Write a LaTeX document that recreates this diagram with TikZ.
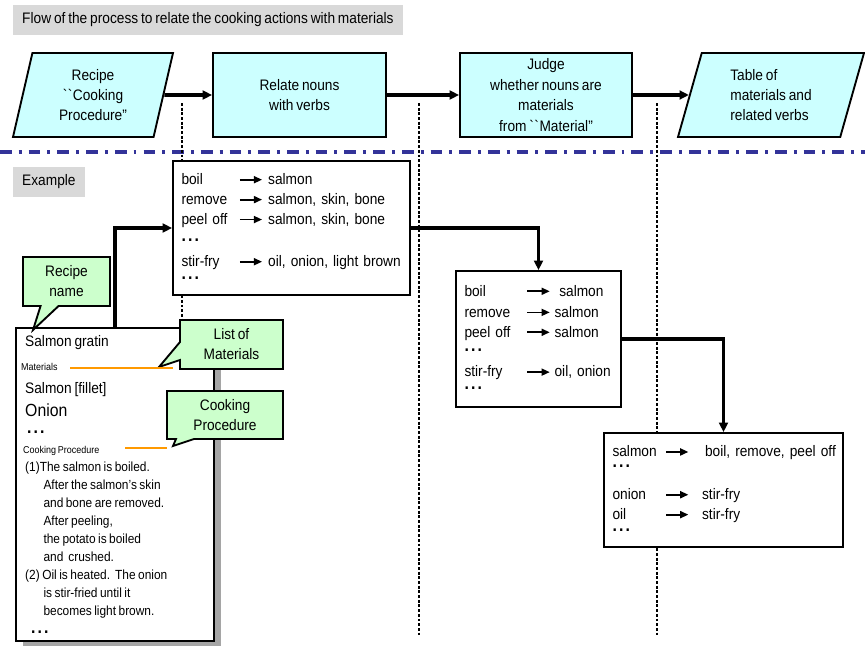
\documentclass[tikz,border=0pt]{standalone}
\usepackage{fontspec}
\setmainfont{Liberation Sans}[FakeStretch=0.9, WordSpace=0.75]
\usepackage{tikz}
\usetikzlibrary{arrows.meta}
\usetikzlibrary{backgrounds}
\usetikzlibrary{shadows}
\usetikzlibrary{shapes.geometric}
\usetikzlibrary{shapes.callouts}
\definecolor{flowcyan}{RGB}{204, 255, 255}
\definecolor{notegreen}{RGB}{204, 255, 204}
\definecolor{bannergray}{RGB}{217, 217, 217}
\definecolor{rulenavy}{RGB}{51, 51, 153}
\definecolor{markorange}{RGB}{255, 153, 0}
\definecolor{shadowgray}{RGB}{165, 165, 165}
\newcommand{\pxu}{0.03cm}
\newcommand{\pairarrow}{\tikz[baseline=-0.6ex]\draw[line width=1.5pt, -{Triangle[length=7pt, width=6pt]}] (0pt,0pt) -- (19pt,0pt);}
\newcommand{\moredots}{{\fontsize{15}{17}\selectfont\textbf{.\kern1.8pt.\kern1.8pt.}}}
\tikzset{
  basefont/.style={font=\fontsize{13}{17}\selectfont},
  banner/.style={basefont, fill=bannergray, anchor=west, inner xsep=9*\pxu, minimum height=30*\pxu},
  flowbox/.style={basefont, draw, line width=1.6pt, fill=flowcyan, align=center, minimum height=84*\pxu, inner sep=1pt},
  iobox/.style={flowbox, trapezium, trapezium stretches body},
  flowline/.style={line width=3pt, -{Triangle[length=8pt, width=7.5pt]}},
  pairbox/.style={basefont, draw, line width=1.6pt, fill=white, align=left, inner xsep=8.5*\pxu},
  recipecard/.style={draw, line width=1.6pt, fill=white, drop shadow={shadow xshift=6pt, shadow yshift=-6pt, fill=shadowgray, opacity=1}},
  cardtext/.style={basefont, anchor=mid west, inner sep=0pt},
  tinytext/.style={font=\fontsize{8.5}{10}\selectfont, anchor=mid west, inner sep=0pt},
  proctext/.style={font=\fontsize{11.3}{15.3}\selectfont, anchor=north west, align=left, inner sep=0pt},
  note/.style={basefont, rectangle callout, draw, line width=1.6pt, fill=notegreen, align=center, callout pointer width=18*\pxu, inner sep=1pt},
  markline/.style={markorange, line width=1.7pt},
  sectionrule/.style={rulenavy, line width=2.6pt, dash pattern=on 10pt off 6pt on 2.5pt off 6pt},
  guideline/.style={line width=1.1pt, dash pattern=on 2.5pt off 1.5pt}
}

\begin{document}
\begin{tikzpicture}[x=\pxu, y=-\pxu]
            \useasboundingbox (0,0) rectangle (865,646);
            % Headings
            \node[banner] (flowtitle)    at (13,20)  {Flow of the process to relate the cooking actions with materials};
            \node[banner] (exampletitle) at (13,182) {Example};
            % Process flow
            \node[iobox, trapezium left angle=70, trapezium right angle=110, minimum width=160*\pxu] (procin) at (93,95)
                 {Recipe\\\textasciigrave\textasciigrave Cooking\\Procedure''};
            \node[flowbox, minimum width=173*\pxu] (relate) at (299.5,95) {Relate nouns\\with verbs};
            \node[flowbox, minimum width=172*\pxu, font=\fontsize{13}{17.6}\selectfont] (judge) at (546,95)
                 {Judge\\whether nouns are\\materials\\from \textasciigrave\textasciigrave Material''};
            \node[iobox, trapezium left angle=66, trapezium right angle=114, minimum width=186*\pxu, align=left] (tableout) at (771,95)
                 {Table of\\materials and\\related verbs};
            \draw[flowline] (procin.east) -- (relate.west);
            \draw[flowline] (relate.east) -- (judge.west);
            \draw[flowline] (judge.east)  -- (tableout.west);
            % Recipe card
            \node[recipecard, minimum width=198*\pxu, minimum height=313*\pxu] (recipecard) at (115,484.5) {};
            \node[cardtext] (dishname) at (25,343) {Salmon gratin};
            \node[tinytext] (matlabel) at (21,367) {Materials};
            \node[cardtext] (matone)   at (25,390) {Salmon [fillet]};
            \node[cardtext, font=\fontsize{15}{18}\selectfont] (mattwo) at (25,413) {Onion};
            \node[cardtext] (matdots)  at (27,430) {\moredots};
            \node[tinytext] (proclabel) at (23,450) {Cooking Procedure};
            \node[proctext] (proclines) at (25,462)
                 {(1)The salmon is boiled.\\
                  \hspace*{15.6pt}After the salmon's skin\\
                  \hspace*{15.6pt}and bone are removed.\\
                  \hspace*{15.6pt}After peeling,\\
                  \hspace*{15.6pt}the potato is boiled\\
                  \hspace*{15.6pt}and\ \ crushed.\\
                  (2) Oil is heated.\ \ The onion\\
                  \hspace*{15.6pt}is stir-fried until it\\
                  \hspace*{15.6pt}becomes light brown.\\
                  \hspace*{5pt}\moredots};
            % Notes
            \node[note, minimum width=87*\pxu, minimum height=49*\pxu, callout absolute pointer={(33,330)}] (namenote) at (66.5,281.5) {Recipe\\name};
            \node[note, minimum width=103*\pxu, minimum height=49*\pxu, callout absolute pointer={(159,367)}] (matnote) at (231.5,344.5) {List of\\Materials};
            \node[note, minimum width=116*\pxu, minimum height=48*\pxu, callout absolute pointer={(173,446)}] (procnote) at (225,415) {Cooking\\Procedure};
            \draw[markline] (70,368)  -- (173,368);
            \draw[markline] (125,448) -- (167,448);
            % Verb -> noun pairs
            \node[pairbox, text width=220*\pxu, minimum height=134*\pxu] (verbnoun) at (291.5,228)
                 {\begin{tabular}{@{}p{49pt}@{}l@{\hspace{4.5pt}}l@{}}
                  boil      & \pairarrow & salmon\\
                  remove    & \pairarrow & salmon, skin, bone\\
                  peel off  & \pairarrow & salmon, skin, bone\\[-2pt]
                  \moredots &            & \\[4pt]
                  stir-fry  & \pairarrow & oil, onion, light brown\\[-6pt]
                  \moredots &            &
                  \end{tabular}};
            % Verb -> material pairs
            \node[pairbox, text width=148*\pxu, minimum height=136*\pxu] (verbmat) at (538.5,339)
                 {\begin{tabular}{@{}p{53pt}@{}l@{\hspace{3.4pt}}l@{}}
                  boil      & \pairarrow & \hspace{4pt}salmon\\[1pt]
                  remove    & \pairarrow & salmon\\
                  peel off  & \pairarrow & salmon\\[-5pt]
                  \moredots &            & \\[5pt]
                  stir-fry  & \pairarrow & oil, onion\\[-6pt]
                  \moredots &            &
                  \end{tabular}};
            % Material -> verb table
            \node[pairbox, text width=222*\pxu, minimum height=114*\pxu] (matverb) at (723.5,490)
                 {\begin{tabular}{@{}p{45pt}@{}l@{\hspace{11pt}}l@{}}
                  salmon    & \pairarrow & \hspace{2.5pt}boil, remove, peel off\\[-7.5pt]
                  \moredots &            & \\[10pt]
                  onion     & \pairarrow & stir-fry\\
                  oil       & \pairarrow & stir-fry\\[-7pt]
                  \moredots &            &
                  \end{tabular}};
            \draw[flowline] (recipecard.north) |- (verbnoun.west);
            \draw[flowline] (verbnoun.east)    -| (verbmat.north);
            \draw[flowline] (verbmat.east)     -| (matverb.north);
            % Section rule and guides
            \begin{scope}[on background layer]
                \draw[sectionrule] (0,152) -- (865,152);
                \foreach \xg in {182,419,657}
                    \draw[guideline] (\xg,103) -- (\xg,636);
            \end{scope}
        \end{tikzpicture}
\end{document}
